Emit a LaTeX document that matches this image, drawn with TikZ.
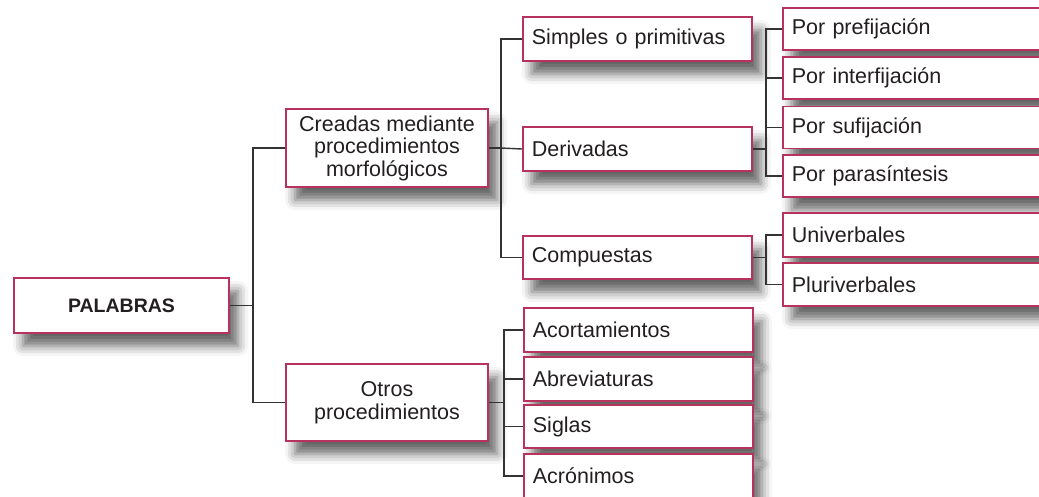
\documentclass[tikz,border=0pt]{standalone}
\usepackage{fontspec}
\setmainfont{Liberation Sans}
\usetikzlibrary{shadows.blur}
\definecolor{rosa}{HTML}{B8325E}
\definecolor{gris}{HTML}{333333}
\definecolor{texto}{HTML}{231F20}
\tikzset{
	caja/.style={draw=rosa, line width=1.8pt, fill=white, text=texto,
		blur shadow={shadow xshift=9pt, shadow yshift=-13pt, shadow blur radius=10pt, shadow opacity=60},
		font=\fontsize{21.5}{22.5}\selectfont, inner sep=0pt},
	hoja/.style={caja, text width=211pt, inner xsep=9pt, align=left, minimum height=#1},
	hoja/.default=43pt,
	rama/.style={draw=gris, line width=1.4pt},
}
\begin{document}
\begin{tikzpicture}[x=1pt,y=-1pt]
	\useasboundingbox (0,0) rectangle (1039,496);
	\clip (0,0) rectangle (1039,496);
	% nivel 1 y 2
	\node[caja, minimum width=215pt, minimum height=55pt, font=\fontsize{19.5}{21}\bfseries] (palabras) at (121.5,305.5) {PALABRAS};
	\node[caja, minimum width=202pt, minimum height=78pt, align=center] (creadas) at (387,148) {Creadas mediante\\procedimientos\\morfológicos};
	\node[caja, minimum width=202pt, minimum height=77pt, align=center] (otros) at (387,402.5) {Otros\\procedimientos};
	% nivel 3
	\node[hoja=44pt, anchor=west] (simples) at (522,39) {Simples o primitivas};
	\node[hoja=44pt, anchor=west] (derivadas) at (522,149) {Derivadas};
	\node[hoja=43pt, anchor=west] (compuestas) at (522,257.5) {Compuestas};
	\node[hoja=44pt, anchor=west] (acortam) at (523,330) {Acortamientos};
	\node[hoja=44pt, anchor=west] (abrev) at (523,379) {Abreviaturas};
	\node[hoja=43pt, anchor=west] (siglas) at (523,426.5) {Siglas};
	\node[hoja=44pt, anchor=west] (acron) at (523,476) {Acrónimos};
	% nivel 4
	\node[hoja=42pt, anchor=west, text width=247pt] (prefij) at (782,29) {Por prefijación};
	\node[hoja=42pt, anchor=west, text width=247pt] (interf) at (782,78) {Por interfijación};
	\node[hoja=42pt, anchor=west, text width=247pt] (sufij) at (782,127.5) {Por sufijación};
	\node[hoja=42pt, anchor=west, text width=247pt] (parasin) at (782,176) {Por parasíntesis};
	\node[hoja=44pt, anchor=west, text width=247pt] (univ) at (782,235) {Univerbales};
	\node[hoja=43pt, anchor=west, text width=247pt] (pluri) at (782,284.5) {Pluriverbales};
	% ramas
	\coordinate (n1) at (253,305.5);
	\coordinate (n2) at (501,148);
	\coordinate (n3) at (766,149);
	\coordinate (n4) at (766,257.5);
	\coordinate (n5) at (504,402.5);
	\draw[rama] (palabras.east) -- (n1);
	\draw[rama] (creadas.west) -| (n1) |- (otros.west);
	\draw[rama] (creadas.east) -- (n2);
	\draw[rama] (simples.west) -| (n2) |- (compuestas.west);
	\draw[rama] (n2) -- (derivadas.west);
	\draw[rama] (derivadas.east) -- (n3);
	\draw[rama] (prefij.west) -| (n3) |- (parasin.west);
	\draw[rama] (interf.west) -| (n3);
	\draw[rama] (sufij.west) -| (n3);
	\draw[rama] (compuestas.east) -- (n4);
	\draw[rama] (univ.west) -| (n4) |- (pluri.west);
	\draw[rama] (otros.east) -- (n5);
	\draw[rama] (acortam.west) -| (n5) |- (acron.west);
	\draw[rama] (abrev.west) -| (n5);
	\draw[rama] (siglas.west) -| (n5);
\end{tikzpicture}
\end{document}
